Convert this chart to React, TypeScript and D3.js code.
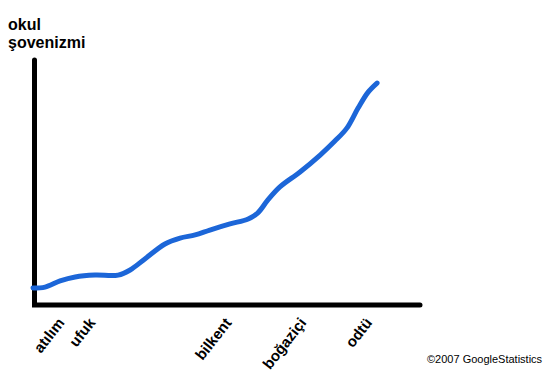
import React from "react";
import * as d3 from "d3";

const titleLines = ["okul", "şovenizmi"];
const categories = ["atılım", "ufuk", "bilkent", "boğaziçi", "odtü"];
const categoryPositions = [8.3, 16.3, 51.5, 70.8, 87.8];
const curveX = [0, 3.1, 7.0, 10.9, 16.0, 22.0, 25.1, 28.9, 34.1, 38.0, 41.9, 45.7, 50.9, 55.6, 58.1, 60.7, 63.8, 69.0, 74.2, 78.0, 81.1, 84.0, 86.6, 88.9];
const curveY = [6.9, 7.3, 9.8, 11.4, 12.2, 12.2, 14.3, 18.8, 24.9, 27.3, 28.6, 30.6, 33.1, 35.1, 37.6, 42.9, 48.2, 54.3, 61.2, 66.9, 72.2, 80.4, 86.9, 90.6];
const credit = "©2007 GoogleStatistics";

export default function App() {
  const W = 552, H = 382;
  const x = d3.scaleLinear().domain([0, 100]).range([33, 420]);
  const y = d3.scaleLinear().domain([0, 100]).range([305, 60]);
  const pts: [number, number][] = curveX.map((v, i) => [v, curveY[i]]);
  const line = d3
    .line<[number, number]>()
    .x((d) => x(d[0]))
    .y((d) => y(d[1]))
    .curve(d3.curveCatmullRom.alpha(0.5));
  const font = "'Liberation Sans', Arial, sans-serif";
  return (
    <svg
      width={W}
      height={H}
      style={{ position: "absolute", left: 0, top: 0, background: "#fff" }}
      fontFamily={font}
    >
      <rect width={W} height={H} fill="#fff" />
      {titleLines.map((t, i) => (
        <text key={t} x={8} y={30 + i * 18} fontSize={16} fontWeight="bold" fill="#000">
          {t}
        </text>
      ))}
      <path
        d={`M${x(0) + 1.5},${y(100)} L${x(0) + 1.5},${y(0)} L${x(100)},${y(0)}`}
        fill="none"
        stroke="#000"
        strokeWidth={5}
        strokeLinejoin="miter"
        strokeLinecap="round"
      />
      <path d={line(pts) || ""} fill="none" stroke="#1c66d8" strokeWidth={5} strokeLinecap="round" strokeLinejoin="round" />
      {categories.map((c, i) => {
        const ax = x(categoryPositions[i]);
        const ay = 323;
        return (
          <text
            key={c}
            x={ax}
            y={ay}
            fontSize={15}
            fontWeight="bold"
            textAnchor="end"
            transform={`rotate(-52 ${ax} ${ay})`}
            fill="#000"
          >
            {c}
          </text>
        );
      })}
      <text x={427} y={363} fontSize={11} fill="#000">
        {credit}
      </text>
    </svg>
  );
}
